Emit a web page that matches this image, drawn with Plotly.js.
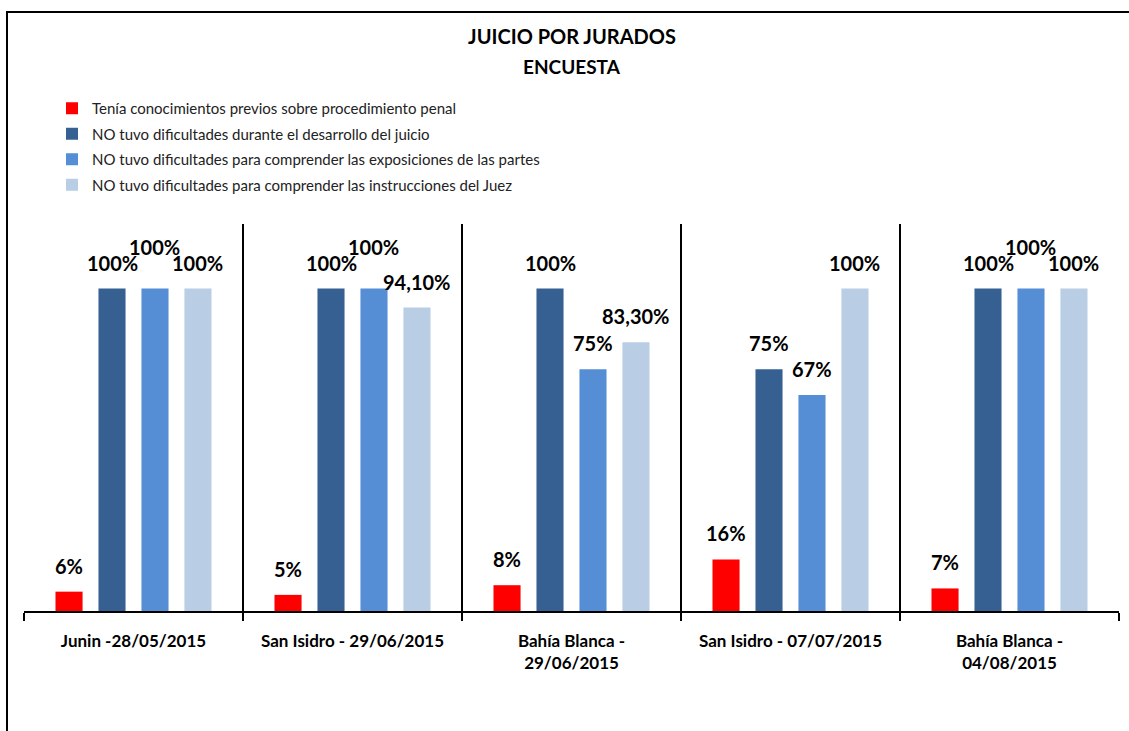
<!DOCTYPE html>
<html>
<head>
<meta charset="utf-8">
<script src="https://cdn.plot.ly/plotly-3.0.1.min.js"></script>
<style>
  html, body { margin: 0; padding: 0; background: #fff; }
  #chart { width: 1129px; height: 731px; }
</style>
</head>
<body>
<div id="chart"></div>
<script>
// ---- data ----
const categories = [
  "Junin -28/05/2015",
  "San Isidro - 29/06/2015",
  "Bahía Blanca -<br>29/06/2015",
  "San Isidro - 07/07/2015",
  "Bahía Blanca -<br>04/08/2015"
];
const seriesNames = [
  "Tenía conocimientos previos sobre procedimiento penal",
  "NO tuvo dificultades durante el desarrollo del juicio",
  "NO tuvo dificultades para comprender las exposiciones de las partes",
  "NO tuvo dificultades para comprender las instrucciones del Juez"
];
const conocimientos = [6, 5, 8, 16, 7];
const desarrollo    = [100, 100, 100, 75, 100];
const exposiciones  = [100, 100, 75, 67, 100];
const instrucciones = [100, 94.1, 83.3, 100, 100];
const seriesValues = [conocimientos, desarrollo, exposiciones, instrucciones];
const seriesColors = ["#FF0000", "#376092", "#558ED5", "#B9CDE5"];

// ---- layout constants ----
const W = 1129, H = 731;
const M = { l: 24, r: 10, t: 224, b: 120, autoexpand: false };
const plotW = W - M.l - M.r;
const plotH = H - M.t - M.b;
const bargap = 0.215;
const slotPx = plotW / categories.length * (1 - bargap) / seriesValues.length;
const FONT = "Lato, 'Open Sans', sans-serif";

function fmt(v) {
  return Number.isInteger(v) ? v + "%" : v.toFixed(2).replace(".", ",") + "%";
}

const traces = seriesValues.map((vals, j) => ({
  type: "bar",
  name: seriesNames[j],
  x: categories,
  y: vals,
  marker: { color: seriesColors[j], line: { width: 0 } },
  legendgroup: "g" + j,
  hoverinfo: "skip"
}));

const annotations = [];
const nS = seriesValues.length;
for (let i = 0; i < categories.length; i++) {
  for (let j = 0; j < nS; j++) {
    const v = seriesValues[j][i];
    let raise = 0;
    if (j > 0 && j < nS - 1) {
      const a = seriesValues[j - 1][i], b = seriesValues[j + 1][i];
      if (Math.abs(v - a) < 7 && Math.abs(v - b) < 7) raise = 16;
    }
    annotations.push({
      x: i, y: v, xref: "x", yref: "y",
      text: "<b>" + fmt(v) + "</b>",
      showarrow: false,
      xanchor: "center", yanchor: "middle",
      xshift: (j - (nS - 1) / 2) * slotPx,
      yshift: 26 + raise,
      font: { family: FONT, size: 20, color: "#000" }
    });
  }
}
annotations.push({
  xref: "paper", yref: "paper",
  x: (572 - M.l) / plotW, y: (H - M.b - 66) / plotH,
  text: "<b>ENCUESTA</b>", showarrow: false,
  xanchor: "center", yanchor: "middle",
  font: { family: FONT, size: 19, color: "#000" }
});

const layout = {
  width: W, height: H,
  margin: M,
  paper_bgcolor: "#fff", plot_bgcolor: "#fff",
  title: {
    text: "<b>JUICIO POR JURADOS</b>",
    xref: "container", yref: "container",
    x: 572 / W, y: 1 - 37 / H, xanchor: "center", yanchor: "middle",
    font: { family: FONT, size: 20, color: "#000" }
  },
  barmode: "group",
  bargap: bargap,
  bargroupgap: 0.37,
  showlegend: true,
  legend: {
    xref: "container", yref: "container",
    x: 52 / W, y: 1 - 92 / H, xanchor: "left", yanchor: "top",
    font: { family: FONT, size: 15, color: "#222" },
    traceorder: "grouped",
    tracegroupgap: 3,
    bgcolor: "rgba(0,0,0,0)",
    itemwidth: 30
  },
  xaxis: {
    type: "category",
    tickson: "boundaries",
    tickangle: 0,
    automargin: false,
    showgrid: true, gridcolor: "#000", gridwidth: 1.5,
    showline: true, linecolor: "#000", linewidth: 1.5,
    ticks: "outside", ticklen: 8, tickcolor: "#000", tickwidth: 1.5,
    ticklabelstandoff: 14,
    tickfont: { family: FONT, size: 17, color: "#000", weight: "bold" },
    fixedrange: true
  },
  yaxis: {
    range: [0, 120],
    automargin: false,
    showgrid: false, zeroline: false, showline: false,
    showticklabels: false, ticks: "",
    fixedrange: true
  },
  annotations: annotations,
  shapes: [{
    type: "rect", xref: "paper", yref: "paper",
    x0: (7 - M.l) / plotW, x1: (W + 20 - M.l) / plotW,
    y0: -1, y1: (H - M.b - 12) / plotH,
    line: { color: "#000", width: 2 }, fillcolor: "rgba(0,0,0,0)",
    layer: "above"
  }]
};

Plotly.newPlot("chart", traces, layout, { displayModeBar: false, staticPlot: true });
</script>
</body>
</html>
